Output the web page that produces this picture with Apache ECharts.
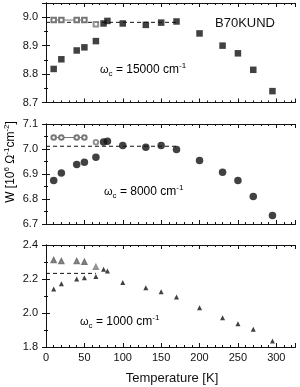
<!DOCTYPE html>
<html><head><meta charset="utf-8">
<script src="https://cdn.jsdelivr.net/npm/echarts@6/dist/echarts.min.js"></script>
<style>html,body{margin:0;padding:0;background:#fff}#c{width:300px;height:387px}</style>
</head><body><div id="c"></div>
<script>
// ---- data ----
const temps = [10, 20, 40, 50, 65, 75, 80, 100, 130, 150, 170, 200, 230, 250, 270, 295];
const w15000 = [8.818, 8.852, 8.883, 8.894, 8.916, 8.978, 8.987, 8.978, 8.973, 8.981, 8.985, 8.943, 8.900, 8.873, 8.815, 8.740];
const w8000 = [6.874, 6.904, 6.938, 6.947, 6.967, 7.028, 7.031, 7.014, 7.007, 7.014, 6.998, 6.954, 6.907, 6.874, 6.810, 6.734];
const w1000 = [2.141, 2.172, 2.200, 2.208, 2.214, 2.257, 2.247, 2.180, 2.149, 2.125, 2.094, 2.031, 1.972, 1.937, 1.904, 1.835];
const openTemps = [10, 20, 40, 50, 65];
const open15000 = [8.990, 8.990, 8.990, 8.990, 8.975];
const open8000 = [7.046, 7.046, 7.046, 7.046, 7.027];
const open1000 = [2.310, 2.305, 2.305, 2.300, 2.270];
const levelValues = [8.982, 7.011, 2.233];
const levelEnds = [172, 172, 65];
const xTicks = [0, 50, 100, 150, 200, 250, 300];
const yTickSets = [[8.7, 8.8, 8.9, 9.0], [6.7, 6.8, 6.9, 7.0, 7.1], [1.8, 2.0, 2.2, 2.4]];
const panelLabels = ['15000', '8000', '1000'];

// ---- layout ----
const FONT = '"Liberation Sans", Arial, sans-serif';
const INK = '#111';
const gridBoxes = [
  {left: 46, right: 4.5, top: 3, height: 99.5},
  {left: 46, right: 4.5, top: 124, height: 100},
  {left: 46, right: 4.5, top: 245, height: 102}
];
const yRanges = [[8.7, 9.05, 0.1], [6.7, 7.1, 0.1], [1.8, 2.4, 0.2]];
const filled = [w15000, w8000, w1000];
const opens = [open15000, open8000, open1000];
const filledSym = ['rect', 'circle', 'triangle'];
const filledSize = [6.5, 7.5, 5];
const openSym = ['emptyRect', 'emptyCircle', 'emptyTriangle'];
const openSize = [4.5, 4.5, 4];

const xAxes = [], yAxes = [], series = [];
gridBoxes.forEach((g, i) => {
  const common = {
    gridIndex: i, type: 'value', min: 0, max: 325, interval: 50,
    axisLine: {lineStyle: {color: INK, width: 1}},
    axisTick: {inside: true, length: 4, lineStyle: {color: INK}},
    minorTick: {show: true, splitNumber: 5, length: 2, lineStyle: {color: INK}},
    splitLine: {show: false}
  };
  xAxes.push(Object.assign({}, common, {
    position: 'bottom',
    axisLabel: {show: i === 2, color: INK, fontFamily: FONT, fontSize: 11, margin: 5,
      formatter: v => xTicks.includes(v) ? String(v) : ''}
  }));
  xAxes.push(Object.assign({}, common, {position: 'top', axisLabel: {show: false}}));
  const [mn, mx, iv] = yRanges[i];
  const ycommon = {
    gridIndex: i, type: 'value', min: mn, max: mx, interval: iv,
    axisLine: {lineStyle: {color: INK, width: 1}},
    axisTick: {inside: true, length: 4, lineStyle: {color: INK}},
    minorTick: {show: true, splitNumber: 2, length: 2, lineStyle: {color: INK}},
    splitLine: {show: false}
  };
  yAxes.push(Object.assign({}, ycommon, {
    position: 'left',
    axisLabel: {color: INK, fontFamily: FONT, fontSize: 11, margin: 8, showMaxLabel: i !== 0,
      formatter: v => yTickSets[i].some(t => Math.abs(t - v) < 1e-6) ? v.toFixed(1) : ''}
  }));
  yAxes.push(Object.assign({}, ycommon, {position: 'right', axisLabel: {show: false}}));

  // dashed level
  series.push({
    type: 'line', xAxisIndex: 2 * i, yAxisIndex: 2 * i, symbol: 'none', silent: true, z: 2,
    data: [[0, levelValues[i]], [levelEnds[i], levelValues[i]]],
    lineStyle: {color: INK, width: 1, type: [4, 3]}
  });
  // open markers (first four joined by a solid line for top two panels)
  series.push({
    type: 'line', xAxisIndex: 2 * i, yAxisIndex: 2 * i, z: 3,
    symbol: openSym[i], symbolSize: openSize[i],
    data: openTemps.slice(0, 4).map((t, k) => [t, opens[i][k]]),
    lineStyle: {color: '#555', width: 0.8, opacity: i === 2 ? 0 : 1},
    itemStyle: {color: '#777', borderWidth: 0.8}
  });
  series.push({
    type: 'scatter', xAxisIndex: 2 * i, yAxisIndex: 2 * i, z: 3,
    symbol: openSym[i], symbolSize: openSize[i],
    data: openTemps.slice(4).map((t, k) => [t, opens[i][k + 4]]),
    itemStyle: {color: '#777', borderWidth: 0.8}
  });
  // filled markers
  series.push({
    type: 'scatter', xAxisIndex: 2 * i, yAxisIndex: 2 * i, z: 4,
    symbol: filledSym[i], symbolSize: filledSize[i],
    data: temps.map((t, k) => [t, filled[i][k]]),
    itemStyle: {color: INK}
  });
});

const richOmega = {
  w: {fontFamily: FONT, fontSize: 11, color: INK},
  sub: {fontFamily: FONT, fontSize: 8, color: INK, padding: [8, 0, 0, 0]},
  n: {fontFamily: FONT, fontSize: 12, color: INK},
  sup: {fontFamily: FONT, fontSize: 8, color: INK, padding: [0, 0, 8, 0]}
};
const omegaPos = [[100, 70], [104, 192], [80, 322]];

const graphics = panelLabels.map((lab, i) => ({
  type: 'text', x: omegaPos[i][0], y: omegaPos[i][1],
  style: {text: '{w|ω}{sub|c}{n| = ' + lab + ' cm}{sup|-1}', rich: richOmega,
    textVerticalAlign: 'middle', verticalAlign: 'middle'}
}));
graphics.push({
  type: 'text', x: 245, y: 23,
  style: {text: 'B70KUND', fontFamily: FONT, fontSize: 13, fill: INK, align: 'center', verticalAlign: 'middle'}
});
graphics.push({
  type: 'text', x: 172, y: 378,
  style: {text: 'Temperature [K]', fontFamily: FONT, fontSize: 13, fill: INK, align: 'center', verticalAlign: 'middle'}
});
graphics.push({
  type: 'text', x: 11, y: 162, rotation: Math.PI / 2,
  style: {
    text: '{n|W [10}{s|6}{n| Ω}{s|-1}{n|cm}{s|-2}{n|]}',
    align: 'center', verticalAlign: 'middle',
    rich: {
      n: {fontFamily: FONT, fontSize: 12, color: INK},
      s: {fontFamily: FONT, fontSize: 8, color: INK, padding: [0, 0, 8, 0]}
    }
  }
});

const chart = echarts.init(document.getElementById('c'), null, {renderer: 'canvas'});
chart.setOption({
  animation: false,
  backgroundColor: '#fff',
  grid: gridBoxes,
  xAxis: xAxes,
  yAxis: yAxes,
  series: series,
  graphic: graphics
});
</script>
</body></html>
